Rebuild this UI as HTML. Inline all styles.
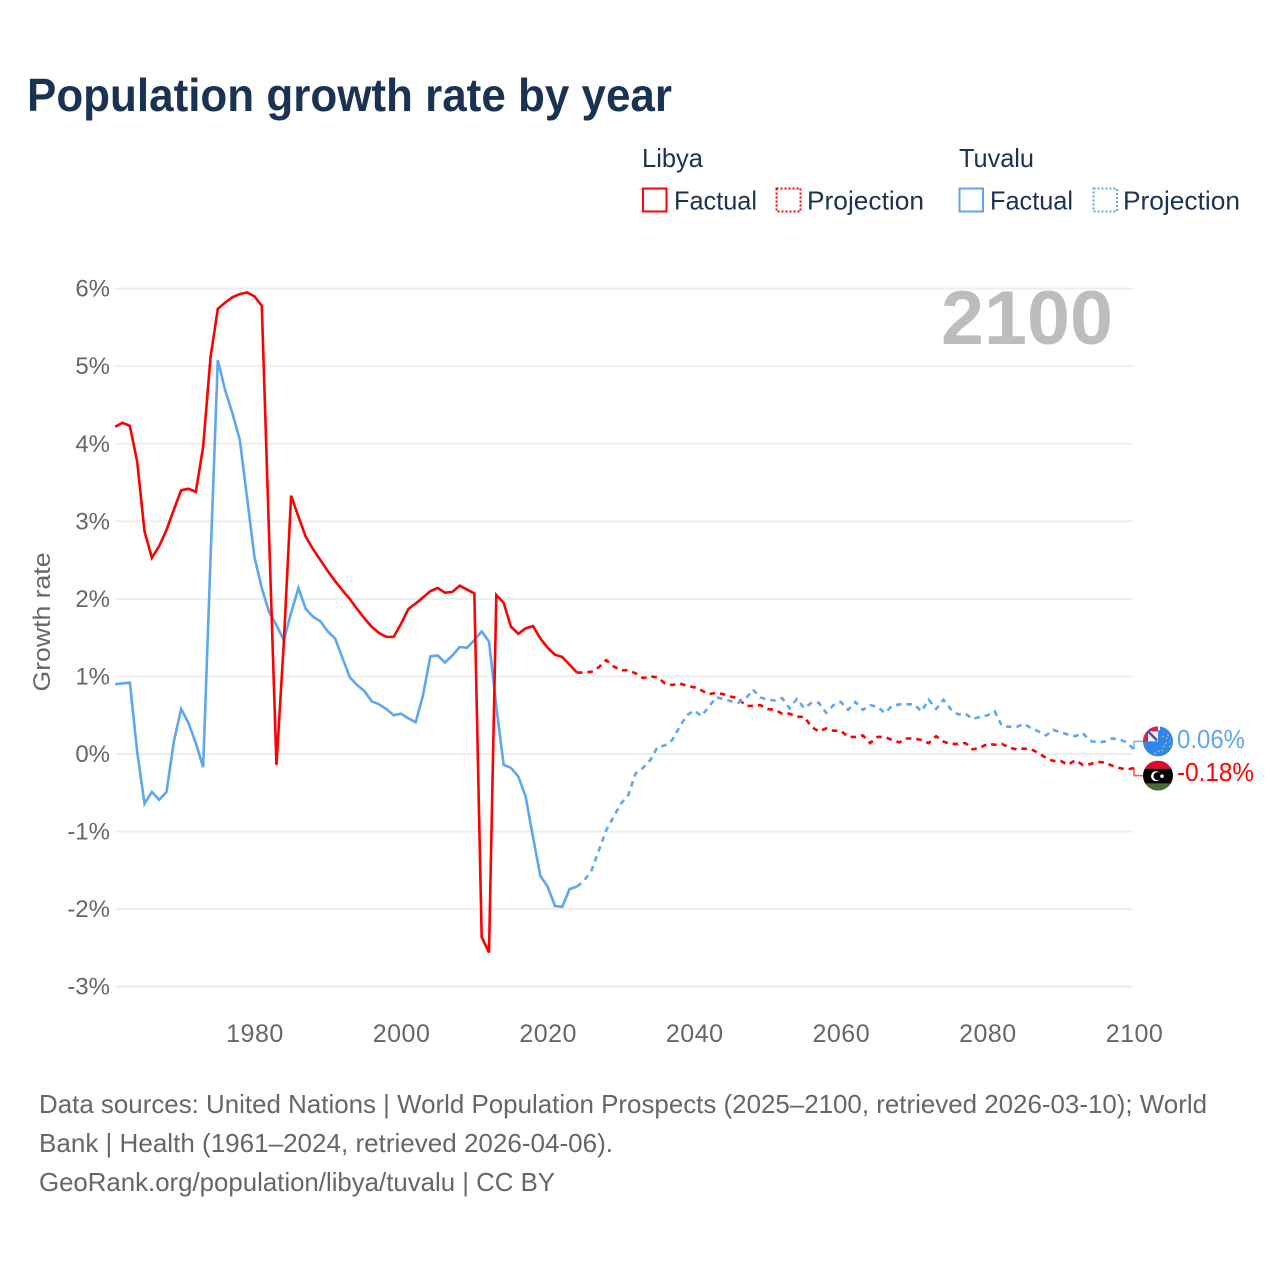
<!DOCTYPE html>
<html lang="en">
<head>
<meta charset="utf-8">
<title>Population growth rate by year</title>
<style>
html,body{margin:0;padding:0;background:#fff;width:1280px;height:1280px;overflow:hidden}
svg{display:block}
text{font-family:"Liberation Sans",sans-serif}
</style>
</head>
<body>
<svg id="chart" xmlns="http://www.w3.org/2000/svg" width="1280" height="1280" viewBox="0 0 1280 1280">
  <defs>
    <clipPath id="flag-clip-tuvalu"><circle cx="0" cy="0" r="15"/></clipPath>
    <clipPath id="flag-clip-libya"><circle cx="0" cy="0" r="15"/></clipPath>
  </defs>
  <rect x="0" y="0" width="1280" height="1280" fill="#fff"/>
  <text x="27" y="111" font-size="46" font-weight="700" fill="#1a3353" textLength="645" lengthAdjust="spacingAndGlyphs">Population growth rate by year</text>

  <g fill="#1a3353" font-size="26">
    <text x="642" y="167" textLength="61" lengthAdjust="spacingAndGlyphs">Libya</text>
    <text x="959" y="167" textLength="75" lengthAdjust="spacingAndGlyphs">Tuvalu</text>
    <rect x="643" y="188.500" width="23.500" height="23" fill="none" stroke="#ff0000" stroke-width="2"/>
    <text x="674" y="209.500" textLength="83" lengthAdjust="spacingAndGlyphs">Factual</text>
    <rect x="776.500" y="188.500" width="24" height="23" fill="none" stroke="#ff0000" stroke-width="2" stroke-dasharray="2,2"/>
    <text x="807" y="209.500" textLength="117" lengthAdjust="spacingAndGlyphs">Projection</text>
    <rect x="959.500" y="188.500" width="23.500" height="23" fill="none" stroke="#5ea6ee" stroke-width="2"/>
    <text x="990" y="209.500" textLength="83" lengthAdjust="spacingAndGlyphs">Factual</text>
    <rect x="1093.500" y="188.500" width="23.500" height="23" fill="none" stroke="#5ea6ee" stroke-width="2" stroke-dasharray="2,2"/>
    <text x="1123" y="209.500" textLength="117" lengthAdjust="spacingAndGlyphs">Projection</text>
  </g>

  <g id="grid"></g>
  <text x="1113" y="344" text-anchor="end" font-size="76" font-weight="700" fill="#bdbdbd" textLength="172" lengthAdjust="spacingAndGlyphs">2100</text>
  <g id="y-ticks"></g>
  <g id="x-ticks"></g>
  <text transform="translate(50,622) rotate(-90)" text-anchor="middle" font-size="24.500" fill="#666" textLength="139" lengthAdjust="spacingAndGlyphs">Growth rate</text>
  <g id="series"></g>
  <g id="end-labels"></g>

  <g fill="#666" font-size="26">
    <text x="39" y="1113" textLength="1168" lengthAdjust="spacingAndGlyphs">Data sources: United Nations | World Population Prospects (2025–2100, retrieved 2026-03-10); World</text>
    <text x="39" y="1152" textLength="574" lengthAdjust="spacingAndGlyphs">Bank | Health (1961–2024, retrieved 2026-04-06).</text>
    <text x="39" y="1191" textLength="516" lengthAdjust="spacingAndGlyphs">GeoRank.org/population/libya/tuvalu | CC BY</text>
  </g>
</svg>

<script>
const yTickValues = [-3, -2, -1, 0, 1, 2, 3, 4, 5, 6];
const xTickYears = [1980, 2000, 2020, 2040, 2060, 2080, 2100];
const factualStartYear = 1961;
const libyaFactual = [4.22,4.27,4.23,3.77,2.87,2.53,2.68,2.89,3.15,3.40,3.42,3.38,3.96,5.11,5.74,5.82,5.89,5.93,5.95,5.90,5.78,2.80,-0.14,1.43,3.33,3.06,2.80,2.64,2.50,2.36,2.23,2.11,2.00,1.87,1.75,1.64,1.56,1.51,1.51,1.68,1.87,1.94,2.02,2.10,2.14,2.08,2.09,2.17,2.12,2.07,-2.36,-2.56,2.05,1.95,1.64,1.55,1.62,1.65,1.49,1.37,1.28,1.25,1.15,1.05];
const libyaProjection = [1.05,1.06,1.12,1.21,1.13,1.08,1.08,1.04,0.98,1.00,0.99,0.91,0.89,0.91,0.88,0.86,0.82,0.77,0.79,0.77,0.74,0.72,0.62,0.62,0.63,0.58,0.57,0.52,0.52,0.48,0.48,0.35,0.29,0.33,0.30,0.30,0.22,0.22,0.24,0.14,0.22,0.22,0.18,0.15,0.20,0.20,0.18,0.14,0.23,0.16,0.13,0.13,0.14,0.06,0.08,0.13,0.12,0.13,0.08,0.06,0.07,0.06,0.01,-0.05,-0.09,-0.09,-0.14,-0.08,-0.14,-0.13,-0.10,-0.11,-0.15,-0.18,-0.20,-0.18];
const tuvaluFactual = [0.90,0.91,0.92,0.03,-0.64,-0.49,-0.59,-0.49,0.16,0.58,0.40,0.14,-0.17,2.50,5.08,4.69,4.39,4.05,3.30,2.54,2.14,1.83,1.66,1.47,1.82,2.14,1.87,1.77,1.71,1.58,1.49,1.24,0.99,0.89,0.81,0.68,0.64,0.58,0.50,0.52,0.46,0.41,0.76,1.26,1.27,1.18,1.27,1.38,1.37,1.47,1.58,1.45,0.61,-0.14,-0.18,-0.29,-0.55,-1.07,-1.57,-1.71,-1.96,-1.97,-1.74,-1.71];
const tuvaluProjection = [-1.63,-1.50,-1.24,-0.98,-0.81,-0.64,-0.53,-0.25,-0.18,-0.08,0.09,0.11,0.18,0.35,0.50,0.56,0.49,0.61,0.73,0.71,0.68,0.66,0.71,0.83,0.73,0.70,0.69,0.72,0.59,0.71,0.59,0.66,0.66,0.53,0.63,0.67,0.57,0.67,0.57,0.63,0.61,0.53,0.62,0.64,0.64,0.64,0.55,0.70,0.58,0.70,0.58,0.51,0.52,0.45,0.48,0.50,0.55,0.36,0.35,0.35,0.39,0.33,0.29,0.24,0.31,0.28,0.25,0.23,0.27,0.17,0.15,0.16,0.20,0.19,0.15,0.06];

const NS = 'http://www.w3.org/2000/svg';
const RED = '#ff0000';
const BLUE = '#5ea6ee';
function xScale(year) { return 115.2 + (year - 1961) * (1134 - 115.2) / 139; }
function yScale(v) { return 754 - v * 77.56; }
function make(tag, attrs, parent) {
  const el = document.createElementNS(NS, tag);
  for (const k in attrs) el.setAttribute(k, attrs[k]);
  parent.appendChild(el);
  return el;
}
function linePath(values, startYear) {
  return values.map((v, i) => (i ? 'L' : 'M') + xScale(startYear + i).toFixed(2) + ' ' + yScale(v).toFixed(2)).join(' ');
}

const gridG = document.getElementById('grid');
const yTicksG = document.getElementById('y-ticks');
yTickValues.forEach(v => {
  const line = make('line', { x1: 115, x2: 1133, y1: yScale(v), y2: yScale(v), stroke: '#eeeeee', 'stroke-width': 2 }, gridG);
  
  
  const t = make('text', { x: 110, y: yScale(v) + 8, 'text-anchor': 'end', 'font-size': 24, fill: '#666' }, yTicksG);
  
  
  t.textContent = v + '%';
});

const xTicksG = document.getElementById('x-ticks');
xTickYears.forEach(y => {
  const t = make('text', { x: xScale(y) + 0.5, y: 1042, 'text-anchor': 'middle', 'font-size': 25, 'letter-spacing': 0.5, fill: '#666' }, xTicksG);
  
  
  t.textContent = y;
});

const seriesG = document.getElementById('series');
const projectionStart = factualStartYear + libyaFactual.length - 1;
function drawLine(values, startYear, color, dashed, name) {
  const p = make('path', { d: linePath(values, startYear), fill: 'none', stroke: color, 'stroke-width': 2.6, 'stroke-linejoin': 'miter' }, seriesG);
  if (dashed) p.setAttribute('stroke-dasharray', '5.5 5');
  
  
}
drawLine(tuvaluFactual, factualStartYear, BLUE, false, 'tuvalu-factual-line');
drawLine(libyaFactual, factualStartYear, RED, false, 'libya-factual-line');
drawLine([libyaFactual[libyaFactual.length - 1]].concat(libyaProjection), projectionStart, RED, true, 'libya-projection-line');
drawLine([tuvaluFactual[tuvaluFactual.length - 1]].concat(tuvaluProjection), projectionStart, BLUE, true, 'tuvalu-projection-line');

const labelsG = document.getElementById('end-labels');
const tuvaluEnd = tuvaluProjection[tuvaluProjection.length - 1];
const libyaEnd = libyaProjection[libyaProjection.length - 1];
const endX = xScale(2100);
const endMid = (yScale(tuvaluEnd) + yScale(libyaEnd)) / 2;
const tuvaluLabelY = endMid - 17.3;
const libyaLabelY = endMid + 17;

const c1 = make('path', { d: 'M' + endX + ' ' + yScale(tuvaluEnd) + ' L' + endX + ' ' + tuvaluLabelY + ' L1145 ' + tuvaluLabelY, fill: 'none', stroke: BLUE, 'stroke-width': 1.5, opacity: 0.85 }, labelsG);


const c2 = make('path', { d: 'M' + endX + ' ' + yScale(libyaEnd) + ' L' + endX + ' ' + libyaLabelY + ' L1145 ' + libyaLabelY, fill: 'none', stroke: RED, 'stroke-width': 1.5, opacity: 0.7 }, labelsG);



// Libya flag
const libya = make('g', { transform: 'translate(1158,' + libyaLabelY + ')' }, labelsG);


const libyaClip = make('g', { 'clip-path': 'url(#flag-clip-libya)' }, libya);
make('rect', { x: -15, y: -15, width: 30, height: 8, fill: '#e0082d' }, libyaClip);
make('rect', { x: -15, y: -7, width: 30, height: 15, fill: '#000' }, libyaClip);
make('rect', { x: -15, y: 8, width: 30, height: 7, fill: '#4d6b34' }, libyaClip);
make('circle', { cx: -2, cy: 0.5, r: 5, fill: '#fff' }, libyaClip);
make('circle', { cx: -0.5, cy: 0.5, r: 4, fill: '#000' }, libyaClip);
make('circle', { cx: 4, cy: 0.5, r: 1.8, fill: '#fff' }, libyaClip);

// Tuvalu flag
const tuvalu = make('g', { transform: 'translate(1158,' + tuvaluLabelY + ')' }, labelsG);


const tuvaluClip = make('g', { 'clip-path': 'url(#flag-clip-tuvalu)' }, tuvalu);
make('rect', { x: -15, y: -15, width: 30, height: 30, fill: '#2e86ee' }, tuvaluClip);
make('rect', { x: -15, y: -15, width: 15, height: 15, fill: '#d9224a' }, tuvaluClip);
make('rect', { x: -10, y: -10, width: 10, height: 10, fill: '#eef2f8' }, tuvaluClip);
make('path', { d: 'M-10 -10 L-1 -1', stroke: '#2c62b8', 'stroke-width': 2.5 }, tuvaluClip);
make('path', { d: 'M-6 -7 L-2 -3', stroke: '#d9224a', 'stroke-width': 1 }, tuvaluClip);
make('rect', { x: 0, y: -15, width: 2, height: 4, fill: '#fff' }, tuvaluClip);
[[9,-3],[5,-5],[12,0],[8,2],[12,5],[6,5],[4,9],[1,10],[-3,12],[10,-6]].forEach(s => {
  make('circle', { cx: s[0], cy: s[1], r: 0.8, fill: '#e8c64a' }, tuvaluClip);
});

const formatPct = v => v.toFixed(2) + '%';
const tuvaluText = make('text', { x: 1177, y: tuvaluLabelY + 6.5, 'font-size': 26, fill: BLUE, textLength: 68, lengthAdjust: 'spacingAndGlyphs' }, labelsG);


tuvaluText.textContent = formatPct(tuvaluEnd);
const libyaText = make('text', { x: 1177, y: libyaLabelY + 5.5, 'font-size': 26, fill: RED, textLength: 77, lengthAdjust: 'spacingAndGlyphs' }, labelsG);


libyaText.textContent = formatPct(libyaEnd);
</script>
</body>
</html>
